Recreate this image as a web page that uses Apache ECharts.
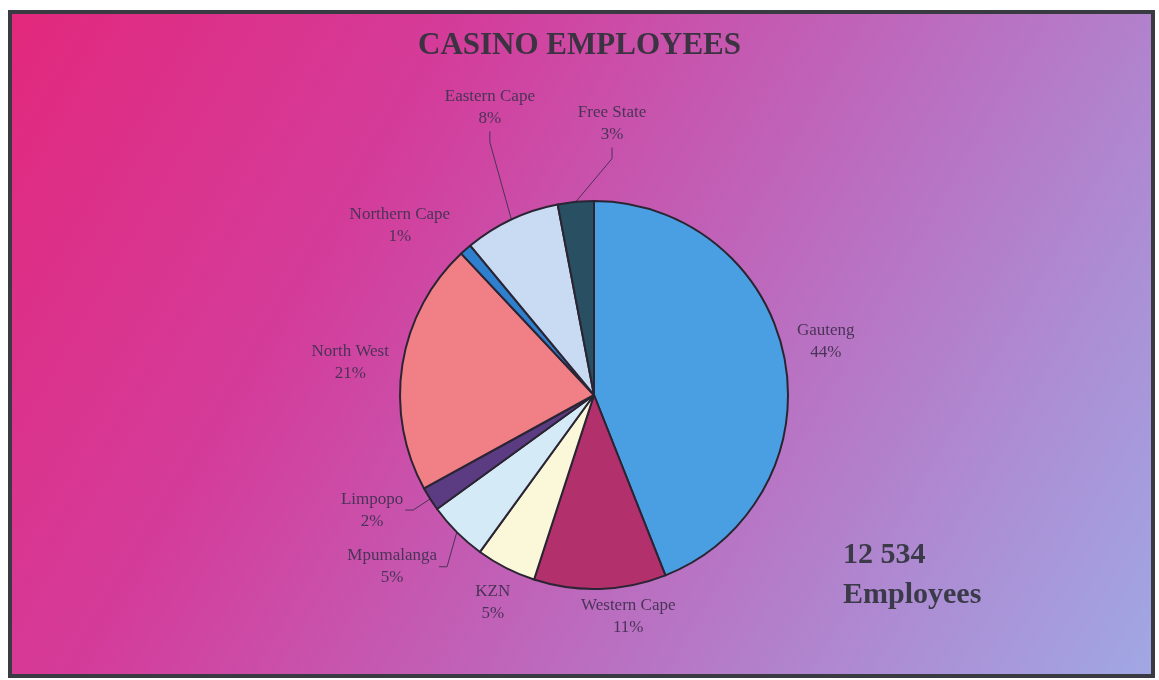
<!DOCTYPE html>
<html>
<head>
<meta charset="utf-8">
<script src="https://cdn.jsdelivr.net/npm/echarts@6/dist/echarts.min.js"></script>
<style>
  html, body { margin: 0; padding: 0; background: #ffffff; }
  #chart { width: 1159px; height: 680px; }
</style>
</head>
<body>
<div id="chart"></div>
<script>
// Casino employees by province (share of total, %)
const regions = ['Gauteng', 'Western Cape', 'KZN', 'Mpumalanga', 'Limpopo', 'North West', 'Northern Cape', 'Eastern Cape', 'Free State'];
const shares = [44, 11, 5, 5, 2, 21, 1, 8, 3];
const totalEmployees = '12 534';
const totalCaption = 'Employees';
const chartTitle = 'CASINO EMPLOYEES';

// Styling
const sliceColors = ['#4a9fe2', '#b2306c', '#faf8d8', '#d4eaf6', '#5b3b82', '#f07f86', '#2f7fcf', '#c9dbf3', '#284f62'];
// Label placement: turn (deg) away from the slice's mid angle, gap (px) from rim to label centre
const labelTurn = [-2.3, -7, -1, 4.6, 5, -1.3, -7.4, 5.3, 9.2];
const labelGap = [44, 30, 37, 71, 56, 52, 64, 112, 78];
// Which labels get a leader line, and which side of the label it meets
const labelLeader = [null, null, null, 'right', 'right', null, null, 'bottom', 'bottom'];

const CX = 594, CY = 395, R = 194;
const shareSum = shares.reduce((a, b) => a + b, 0);

function midAngle(i) {
  const before = shares.slice(0, i).reduce((a, b) => a + b, 0);
  return -90 + (before + shares[i] / 2) / shareSum * 360;
}

function placeLabel(params) {
  const i = params.dataIndex;
  const mid = midAngle(i);
  const rad = (mid + labelTurn[i]) * Math.PI / 180;
  const d = R + labelGap[i];
  const x = CX + d * Math.cos(rad);
  const y = CY + d * Math.sin(rad);
  const w = params.labelRect.width, h = params.labelRect.height;
  const out = { x: x, y: y, align: 'center', verticalAlign: 'middle' };
  const side = labelLeader[i];
  if (side) {
    const mr = mid * Math.PI / 180;
    const p0 = [CX + R * Math.cos(mr), CY + R * Math.sin(mr)];
    let end, bend;
    if (side === 'right') {
      end = [x + w / 2 + 2, y];
      bend = [end[0] + 8, y];
    } else {
      end = [x, y + h / 2 + 2];
      bend = [x, end[1] + 11];
    }
    out.labelLinePoints = [p0, bend, end];
  }
  return out;
}

const pieData = regions.map((name, i) => ({
  name: name,
  value: shares[i],
  itemStyle: { color: sliceColors[i] },
  labelLine: { show: !!labelLeader[i] }
}));

const chart = echarts.init(document.getElementById('chart'), null, { renderer: 'canvas' });

chart.setOption({
  animation: false,
  backgroundColor: '#ffffff',
  title: {
    text: chartTitle,
    left: 'center',
    top: 25,
    textStyle: {
      fontFamily: 'Liberation Serif',
      fontWeight: 'bold',
      fontSize: 31,
      color: '#3c3342'
    }
  },
  graphic: [
    {
      type: 'rect',
      z: -10,
      silent: true,
      shape: { x: 10, y: 12, width: 1143, height: 664 },
      style: {
        fill: {
          type: 'linear', x: 0, y: 0, x2: 1, y2: 1,
          colorStops: [
            { offset: 0, color: '#e2287c' },
            { offset: 0.3, color: '#d43c9a' },
            { offset: 0.55, color: '#c062b8' },
            { offset: 0.8, color: '#ae8ad2' },
            { offset: 1, color: '#a0a8e4' }
          ]
        },
        stroke: '#3a3a42',
        lineWidth: 4
      }
    },
    {
      type: 'text',
      z: 10,
      left: 843,
      top: 535,
      style: {
        text: totalEmployees + '\n' + totalCaption,
        fontFamily: 'Liberation Serif',
        fontWeight: 'bold',
        fontSize: 30,
        lineHeight: 40,
        fill: '#3a3a48',
        align: 'left'
      }
    }
  ],
  series: [
    {
      type: 'pie',
      center: [CX, CY],
      radius: R,
      startAngle: 90,
      clockwise: true,
      avoidLabelOverlap: false,
      data: pieData,
      itemStyle: { borderColor: '#2b2433', borderWidth: 2 },
      label: {
        show: true,
        position: 'outside',
        formatter: '{b}\n{c}%',
        fontFamily: 'Liberation Serif',
        fontSize: 17,
        lineHeight: 22,
        color: '#4a3358',
        align: 'center'
      },
      labelLine: {
        show: true,
        length: 10,
        length2: 0,
        lineStyle: { color: '#4a3358', width: 1 }
      },
      labelLayout: placeLabel,
      emphasis: { disabled: true }
    }
  ]
});
</script>
</body>
</html>
